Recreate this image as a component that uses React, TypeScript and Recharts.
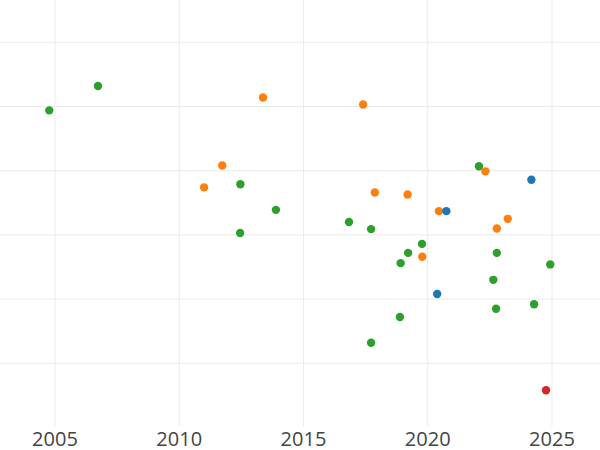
import React from "react";
import { ScatterChart, Scatter, XAxis, YAxis, CartesianGrid } from "recharts";

const xTicks = [2005, 2010, 2015, 2020, 2025];
const yTicks = [1, 2, 3, 4, 5, 6];

const greenYears = [2004.77, 2006.73, 2012.46, 2013.89, 2012.45, 2016.83, 2017.72, 2019.77, 2019.21, 2018.91, 2022.06, 2022.78, 2024.93, 2022.64, 2024.28, 2022.75, 2018.88, 2017.72];
const greenValues = [4.94, 5.32, 3.79, 3.39, 3.03, 3.2, 3.09, 2.86, 2.72, 2.56, 4.07, 2.72, 2.54, 2.3, 1.92, 1.85, 1.72, 1.32];

const orangeYears = [2013.37, 2017.4, 2011.73, 2011.0, 2017.87, 2019.19, 2022.32, 2020.45, 2023.22, 2022.78, 2019.78];
const orangeValues = [5.14, 5.03, 4.08, 3.74, 3.66, 3.63, 3.99, 3.37, 3.25, 3.1, 2.66];

const blueYears = [2024.17, 2020.75, 2020.38];
const blueValues = [3.86, 3.37, 2.08];

const redYears = [2024.76];
const redValues = [0.58];

const toPoints = (xs: number[], ys: number[]) => xs.map((x, i) => ({ x, y: ys[i] }));

const series = [
  { name: "green", color: "#2ca02c", data: toPoints(greenYears, greenValues) },
  { name: "orange", color: "#ff7f0e", data: toPoints(orangeYears, orangeValues) },
  { name: "blue", color: "#1f77b4", data: toPoints(blueYears, blueValues) },
  { name: "red", color: "#d62728", data: toPoints(redYears, redValues) },
];

const dot = (color: string) => (props: any) => (
  <circle cx={props.cx} cy={props.cy} r={4.2} fill={color} />
);

const emptyTick = () => <g />;

export default function App() {
  return (
    <div style={{ position: "absolute", left: 0, top: 0, width: 600, height: 450, background: "#fff" }}>
      <ScatterChart width={600} height={450} margin={{ top: 0, right: 0, bottom: 0, left: 0 }}>
        <CartesianGrid stroke="#ebebeb" strokeWidth={1} syncWithTicks />
        <XAxis
          type="number"
          dataKey="x"
          domain={[2002.787, 2026.932]}
          allowDataOverflow
          ticks={xTicks}
          axisLine={false}
          tickLine={false}
          tickSize={0}
          tickMargin={6}
          height={24}
          tick={{ fill: "#444", fontSize: 20, fontFamily: "Open Sans" }}
        />
        <YAxis
          type="number"
          dataKey="y"
          domain={[0.023, 6.659]}
          allowDataOverflow
          ticks={yTicks}
          width={0}
          tick={emptyTick}
          axisLine={false}
          tickLine={false}
        />
        {series.map((s) => (
          <Scatter
            key={s.name}
            name={s.name}
            data={s.data}
            fill={s.color}
            shape={dot(s.color)}
            isAnimationActive={false}
          />
        ))}
      </ScatterChart>
    </div>
  );
}
